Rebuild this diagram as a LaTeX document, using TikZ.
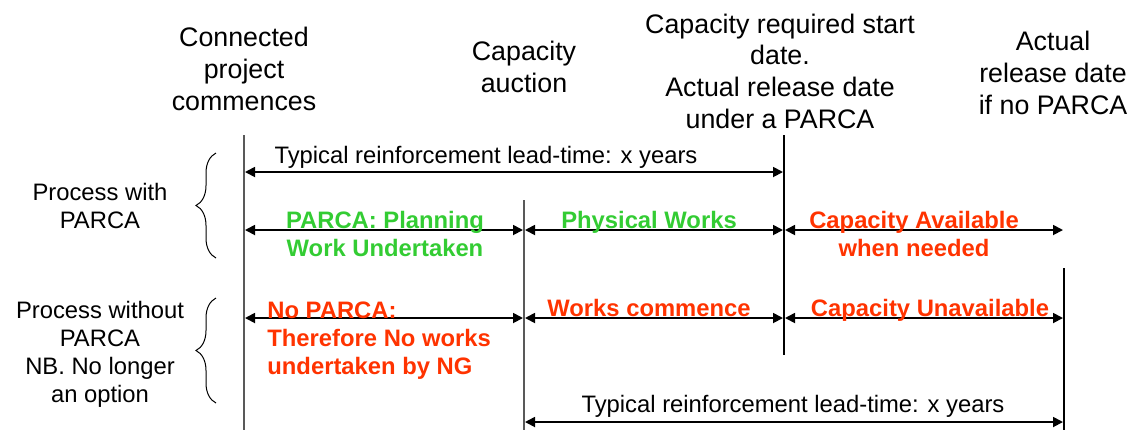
\documentclass[tikz,border=0pt]{standalone}
\usepackage{fontspec}
\setmainfont{Liberation Sans}
\usetikzlibrary{positioning,arrows.meta,decorations.pathreplacing}
\definecolor{parcagreen}{RGB}{51,204,51}
\definecolor{parcared}{RGB}{255,51,0}

\begin{document}
\begin{tikzpicture}[
x=0.5pt, y=-0.5pt,
toplabel/.style={align=center, anchor=base, inner sep=0pt, font=\fontsize{13.4}{15.8}\selectfont},
sidelabel/.style={align=center, anchor=base, inner sep=0pt, font=\fontsize{11.9}{14}\selectfont},
greennote/.style={sidelabel, text=parcagreen, font=\fontsize{11.9}{14}\selectfont\bfseries},
rednote/.style={sidelabel, text=parcared, font=\fontsize{11.9}{14}\selectfont\bfseries},
span/.style={<->, >={Triangle[length=5pt,width=5pt]}, line width=0.9pt, shorten <=0.5pt, shorten >=0.5pt},
milestone/.style={line width=0.9pt},
bracket/.style={decorate, decoration={brace, amplitude=10pt}, line width=0.5pt}
]
    \useasboundingbox (0,0) rectangle (1133,430);

    %Timeline points
    \coordinate (m0) at (244,0);
    \coordinate (m1) at (524,0);
    \coordinate (m2) at (784,0);
    \coordinate (m3) at (1064,0);
    \coordinate (rA) at (0,172);
    \coordinate (rB) at (0,230);
    \coordinate (rC) at (0,318);
    \coordinate (rD) at (0,422);

    %Milestone lines
    \draw[milestone, black!65] (244,135) -- (244,430);
    \draw[milestone, black!65] (524,200) -- (524,430);
    \draw[milestone] (784,135) -- (784,355);
    \draw[milestone] (1064,268) -- (1064,430);

    %Milestone labels (base = last line)
    \node[toplabel] (start)   at (244,110) {Connected\\project\\commences};
    \node[toplabel] (auction) at (524,92)  {Capacity\\auction};
    \node[toplabel] (needed)  at (780,128) {Capacity required start\\date.\\Actual release date\\under a PARCA};
    \node[toplabel] (late)    at (1053,114) {Actual\\release date\\if no PARCA};

    %Process labels
    \node[sidelabel] (withp)    at (100,228) {Process with\\PARCA};
    \node[sidelabel] (withoutp) at (100,402) {Process without\\PARCA\\NB. No longer\\an option};
    \draw[bracket] (216,258) -- (216,153);
    \draw[bracket] (216,403) -- (216,298);

    %Spans
    \draw[span] (m0 |- rA) -- (m2 |- rA);
    \draw[span] (m0 |- rB) -- (m1 |- rB);
    \draw[span] (m1 |- rB) -- (m2 |- rB);
    \draw[span] (m2 |- rB) -- (m3 |- rB);
    \draw[span] (m0 |- rC) -- (m1 |- rC);
    \draw[span] (m1 |- rC) -- (m2 |- rC);
    \draw[span] (m2 |- rC) -- (m3 |- rC);
    \draw[span] (m1 |- rD) -- (m3 |- rD);

    %Span labels
    \node[sidelabel] (leadA) at (486,163) {Typical reinforcement lead-time: x years};
    \node[greennote] (plan)  at (385,256) {PARCA: Planning\\Work Undertaken};
    \node[greennote] (works) at (649,228) {Physical Works};
    \node[rednote]   (avail) at (914,256) {Capacity Available\\when needed};
    \node[rednote, align=left, anchor=base west] (nowork) at (267,374) {No PARCA:\\Therefore No works\\undertaken by NG};
    \node[rednote]   (begin) at (649,316) {Works commence};
    \node[rednote]   (unav)  at (930,316) {Capacity Unavailable};
    \node[sidelabel] (leadD) at (793,412) {Typical reinforcement lead-time: x years};
\end{tikzpicture}
\end{document}
